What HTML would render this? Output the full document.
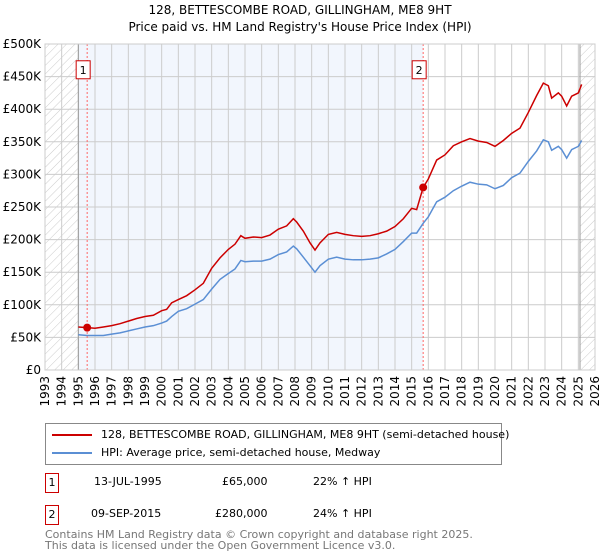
<!DOCTYPE html>
<html><head><meta charset="utf-8"><style>
body{margin:0;width:600px;height:560px;background:#fff;font-family:"DejaVu Sans","Liberation Sans",sans-serif;overflow:hidden;position:relative}
.t{position:absolute;font-size:11px;color:#000;white-space:nowrap}
</style></head><body>
<div class="t" style="left:0;width:600px;text-align:center;top:3px;font-size:12px">128, BETTESCOMBE ROAD, GILLINGHAM, ME8 9HT</div>
<div class="t" style="left:0;width:600px;text-align:center;top:20px;font-size:12px">Price paid vs. HM Land Registry's House Price Index (HPI)</div>
<svg id="c" width="600" height="415" style="position:absolute;left:0;top:0;font-family:'DejaVu Sans',sans-serif">
<defs><pattern id="h" width="6" height="6" patternUnits="userSpaceOnUse" patternTransform="rotate(45)"><line x1="0" y1="0" x2="0" y2="6" stroke="#ccc" stroke-width="1"/></pattern></defs>
</svg>
<div style="position:absolute;left:45px;top:423px;width:455px;height:40px;border:1px solid #888">
<div style="position:absolute;left:6px;top:4px;font-size:11px;white-space:nowrap"><span style="display:inline-block;width:40px;height:2px;background:#cc0000;vertical-align:middle;margin-right:9px"></span>128, BETTESCOMBE ROAD, GILLINGHAM, ME8 9HT (semi-detached house)</div>
<div style="position:absolute;left:6px;top:22px;font-size:11px;white-space:nowrap"><span style="display:inline-block;width:40px;height:2px;background:#5b8fd4;vertical-align:middle;margin-right:9px"></span>HPI: Average price, semi-detached house, Medway</div>
</div>
<div style="position:absolute;left:45px;top:473px;width:12px;height:18px;border:1px solid #c00;font-size:11px;text-align:center;line-height:18px">1</div>
<div class="t" style="left:94px;top:475px">13-JUL-1995</div>
<div class="t" style="left:222px;top:475px">£65,000</div>
<div class="t" style="left:313px;top:475px">22% ↑ HPI</div>
<div style="position:absolute;left:45px;top:505px;width:12px;height:18px;border:1px solid #c00;font-size:11px;text-align:center;line-height:18px">2</div>
<div class="t" style="left:91px;top:507px">09-SEP-2015</div>
<div class="t" style="left:215px;top:507px">£280,000</div>
<div class="t" style="left:313px;top:507px">24% ↑ HPI</div>
<div class="t" style="left:45px;top:529px;color:#777;font-size:11px;line-height:11px">Contains HM Land Registry data © Crown copyright and database right 2025.<br>This data is licensed under the Open Government Licence v3.0.</div>
<script>
const redX=[1995.0,1995.53,1996,1996.5,1997,1997.5,1998,1998.5,1999,1999.5,2000,2000.3,2000.6,2001,2001.5,2002,2002.5,2003,2003.5,2004,2004.4,2004.75,2005,2005.5,2006,2006.5,2007,2007.5,2007.9,2008.1,2008.5,2008.9,2009.2,2009.5,2010,2010.5,2011,2011.5,2012,2012.5,2013,2013.5,2014,2014.5,2015,2015.3,2015.69,2016,2016.5,2017,2017.5,2018,2018.5,2019,2019.5,2020,2020.5,2021,2021.5,2022,2022.5,2022.9,2023.2,2023.4,2023.8,2024,2024.3,2024.6,2025,2025.2];
const redY=[66,65,64,66,68,71,75,79,82,84,91,93,103,108,114,123,133,156,172,185,193,206,202,204,203,207,216,221,232,227,213,195,184,195,208,211,208,206,205,206,209,213,220,232,248,246,280,293,322,330,344,350,355,351,349,343,352,363,371,395,421,440,436,417,425,420,405,420,425,438];
const blueX=[1995.0,1995.53,1996,1996.5,1997,1997.5,1998,1998.5,1999,1999.5,2000,2000.3,2000.6,2001,2001.5,2002,2002.5,2003,2003.5,2004,2004.4,2004.75,2005,2005.5,2006,2006.5,2007,2007.5,2007.9,2008.1,2008.5,2008.9,2009.2,2009.5,2010,2010.5,2011,2011.5,2012,2012.5,2013,2013.5,2014,2014.5,2015,2015.3,2015.69,2016,2016.5,2017,2017.5,2018,2018.5,2019,2019.5,2020,2020.5,2021,2021.5,2022,2022.5,2022.9,2023.2,2023.4,2023.8,2024,2024.3,2024.6,2025,2025.2];
const blueY=[54,53,53,53,55,57,60,63,66,68,72,75,82,90,94,101,108,124,139,148,155,168,166,167,167,170,177,181,190,186,173,160,150,160,170,173,170,169,169,170,172,178,185,197,210,210,225,235,258,265,275,282,288,285,284,278,283,295,302,320,336,353,350,337,343,338,325,338,343,352];
const yTicks=[0,50,100,150,200,250,300,350,400,450,500];
const yLabels=["£0","£50K","£100K","£150K","£200K","£250K","£300K","£350K","£400K","£450K","£500K"];
const years=[1993,1994,1995,1996,1997,1998,1999,2000,2001,2002,2003,2004,2005,2006,2007,2008,2009,2010,2011,2012,2013,2014,2015,2016,2017,2018,2019,2020,2021,2022,2023,2024,2025,2026];
const salesX=[1995.53,2015.69];
const salesY=[65,280];
const L=45,R=595,T=44,B=370;
const x=v=>L+(v-1993)/33*(R-L);
const y=v=>B-v/500*(B-T);
const s=document.getElementById('c'),NS='http://www.w3.org/2000/svg';
function mk(t,a){const e=document.createElementNS(NS,t);for(const k in a)e.setAttribute(k,a[k]);s.appendChild(e);return e;}
let e;
e=mk('rect',{x:L,y:T,width:R-L,height:B-T,fill:'#fff'});
e=mk('rect',{x:x(1995),y:T,width:x(2015.69)-x(1995),height:B-T,fill:'#f2f6fd'});


e=mk('rect',{x:L,y:T,width:x(1995)-L,height:B-T,fill:'url(#h)'});


e=mk('rect',{x:x(2025.1),y:T,width:R-x(2025.1),height:B-T,fill:'url(#h)'});


years.forEach(yr=>{e=mk('line',{x1:x(yr),x2:x(yr),y1:T,y2:B,stroke:'#ccc'});


const t=mk('text',{x:0,y:0,transform:`translate(${x(yr)+4},${B+6}) rotate(-90)`,'text-anchor':'end','font-size':'12',fill:'#000'});t.textContent=yr;

});
yTicks.forEach((v,i)=>{e=mk('line',{x1:L,x2:R,y1:y(v),y2:y(v),stroke:'#ccc'});


const t=mk('text',{x:L-4,y:y(v)+4,'text-anchor':'end','font-size':'12',fill:'#000'});t.textContent=yLabels[i];

});
e=mk('line',{x1:x(1995),x2:x(1995),y1:T,y2:B,stroke:'#999'});
e=mk('line',{x1:x(2025.1),x2:x(2025.1),y1:T,y2:B,stroke:'#999'});
salesX.forEach((v,i)=>{e=mk('line',{x1:x(v),x2:x(v),y1:T,y2:B,stroke:'#f66','stroke-dasharray':'2,2'});

});
e=mk('polyline',{points:blueX.map((v,i)=>x(v)+','+y(blueY[i])).join(' '),fill:'none',stroke:'#5b8fd4','stroke-width':1.5});


e=mk('polyline',{points:redX.map((v,i)=>x(v)+','+y(redY[i])).join(' '),fill:'none',stroke:'#cc0000','stroke-width':1.5});


salesX.forEach((v,i)=>{e=mk('circle',{cx:x(v),cy:y(salesY[i]),r:4,fill:'#cc0000'});


const bx=x(v)-11;
e=mk('rect',{x:bx,y:y(462)-8,width:14,height:18,fill:'#fff',stroke:'#c00'});


const t=mk('text',{x:bx+7,y:y(462)+5,'text-anchor':'middle','font-size':'11'});t.textContent=i+1;

});
e=mk('rect',{x:L,y:T,width:R-L,height:B-T,fill:'none',stroke:'#ccc'});
</script>
</body></html>
